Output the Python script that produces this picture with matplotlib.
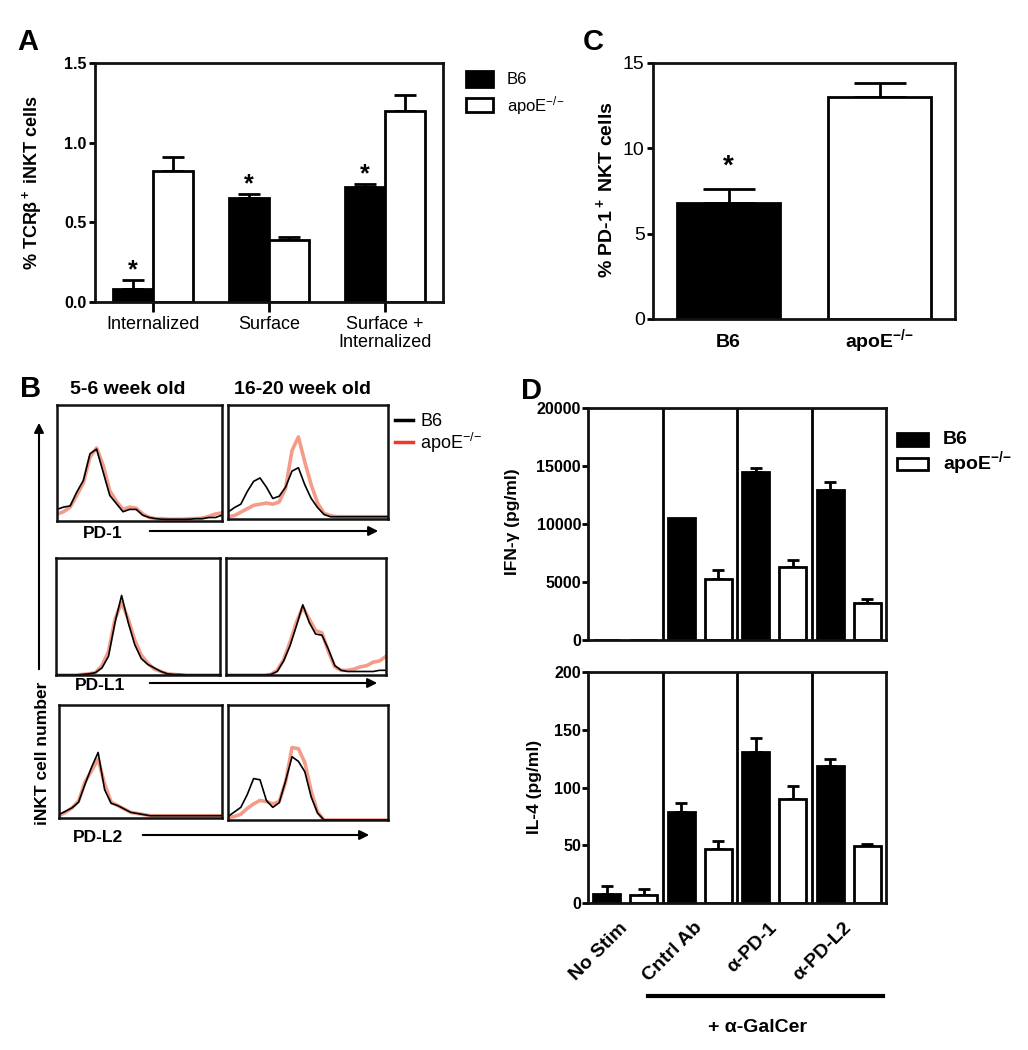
import numpy as np
import matplotlib
matplotlib.use('Agg')
import matplotlib.pyplot as plt
from matplotlib.patches import Rectangle, FancyArrowPatch

plt.rcParams['font.family'] = ['Liberation Sans', 'DejaVu Sans']
plt.rcParams['mathtext.fontset'] = 'custom'
plt.rcParams['mathtext.rm'] = 'Liberation Sans'
plt.rcParams['mathtext.bf'] = 'Liberation Sans:bold'
plt.rcParams['mathtext.default'] = 'regular'

KO = r'apoE$^{{-}/{-}}$'

# ---- data ----
# panel A
a_groups = ['Internalized', 'Surface', 'Surface +\nInternalized']
a_b6 = [0.08, 0.65, 0.72]
a_b6_err = [0.06, 0.03, 0.02]
a_apoe = [0.82, 0.39, 1.20]
a_apoe_err = [0.09, 0.02, 0.10]

# panel C
c_groups = ['B6', KO]
c_vals = [6.8, 13.0]
c_err = [0.8, 0.8]

# panel D
d_groups = ['No Stim', 'Cntrl Ab', 'α-PD-1', 'α-PD-L2']
ifn_b6 = [0, 10500, 14500, 12900]
ifn_b6_err = [0, 0, 300, 700]
ifn_apoe = [0, 5300, 6300, 3200]
ifn_apoe_err = [0, 700, 600, 300]
il4_b6 = [8, 79, 131, 119]
il4_b6_err = [7, 8, 12, 6]
il4_apoe = [7, 47, 90, 49]
il4_apoe_err = [5, 7, 11, 2]

# panel B histograms (fraction of channel range vs relative count)
hist_x = np.linspace(0, 1, 26)
pd1_young_b6 = [.10, .12, .13, .25, .35, .58, .62, .42, .22, .15, .08, .10, .10,
                .05, .03, .02, .015, .015, .015, .015, .015, .02, .02, .03, .03, .05]
pd1_young_apoe = [.06, .08, .12, .22, .33, .55, .63, .48, .26, .17, .10, .12, .11,
                  .06, .03, .02, .02, .015, .015, .015, .02, .02, .025, .04, .06, .07]
pd1_old_b6 = [.06, .10, .13, .24, .33, .36, .28, .18, .20, .28, .42, .45, .30,
              .18, .10, .04, .02, .02, .02, .02, .02, .02, .02, .02, .02, .02]
pd1_old_apoe = [.02, .03, .06, .09, .12, .13, .14, .13, .15, .27, .60, .72, .50,
                .30, .14, .05, .03, .02, .02, .02, .02, .02, .02, .02, .02, .02]
pdl1_young_b6 = [0, 0, 0, 0, .005, .01, .02, .06, .16, .45, .68, .45, .26,
                 .14, .09, .06, .03, .01, .005, .005, 0, 0, 0, 0, 0, 0]
pdl1_young_apoe = [0, 0, 0, 0, .005, .01, .02, .08, .20, .48, .62, .48, .30,
                   .17, .10, .05, .03, .01, .005, 0, 0, 0, 0, 0, 0, 0]
pdl1_old_b6 = [0, 0, 0, 0, 0, 0, 0, .005, .03, .12, .25, .42, .60,
               .45, .35, .34, .22, .08, .04, .03, .03, .03, .03, .03, .04, .04]
pdl1_old_apoe = [0, 0, 0, 0, 0, 0, 0, .005, .04, .13, .28, .45, .58,
                 .48, .38, .36, .20, .07, .04, .04, .05, .07, .08, .11, .12, .16]
pdl2_young_b6 = [.03, .06, .09, .14, .30, .45, .58, .25, .13, .11, .08, .05, .04,
                 .03, .02, .02, .02, .02, .02, .02, .02, .02, .02, .02, .02, .02]
pdl2_young_apoe = [.02, .05, .09, .15, .32, .42, .52, .30, .14, .11, .08, .05, .04,
                   .03, .02, .02, .02, .02, .02, .02, .02, .02, .02, .02, .02, .02]
pdl2_old_b6 = [.03, .07, .11, .22, .36, .35, .17, .11, .15, .34, .55, .51, .42,
               .20, .06, 0, 0, 0, 0, 0, 0, 0, 0, 0, 0, 0]
pdl2_old_apoe = [.02, .03, .05, .10, .14, .17, .16, .14, .16, .33, .63, .62, .50,
                 .25, .07, 0, 0, 0, 0, 0, 0, 0, 0, 0, 0, 0]

W, H = 1028, 1050
fig = plt.figure(figsize=(W / 100, H / 100), dpi=100)


def rect(x0, y0, x1, y1):
    return [x0 / W, 1 - y1 / H, (x1 - x0) / W, (y1 - y0) / H]


# overlay in pixel coords for labels, legends, arrows
ov = fig.add_axes([0, 0, 1, 1])
ov.set_xlim(0, W)
ov.set_ylim(H, 0)
ov.axis('off')
ov.patch.set_alpha(0)


def style_box(ax, lw=2):
    for s in ax.spines.values():
        s.set_linewidth(lw)
        s.set_color('#111111')


def up_err(ax, x, y, e, cap, lw=2):
    x = np.asarray(x, float)
    y = np.asarray(y, float)
    e = np.asarray(e, float)
    m = e > 0
    ax.errorbar(x[m], y[m], yerr=[np.zeros(m.sum()), e[m]], fmt='none',
                ecolor='black', elinewidth=lw, capsize=cap, capthick=lw, zorder=1)


# ---------------- Panel A ----------------
axA = fig.add_axes(rect(95, 63, 443, 302))
xa = np.arange(len(a_groups))
bw = 0.345
axA.bar(xa - bw / 2, a_b6, bw, color='black', edgecolor='black', lw=2, zorder=2)
axA.bar(xa + bw / 2, a_apoe, bw, color='white', edgecolor='black', lw=2, zorder=2)
up_err(axA, xa - bw / 2, a_b6, a_b6_err, 8)
up_err(axA, xa + bw / 2, a_apoe, a_apoe_err, 8)
for i in range(len(a_groups)):
    axA.text(xa[i] - bw / 2, a_b6[i] + a_b6_err[i] + 0.06, '*', ha='center', va='center',
             fontsize=18, fontweight='bold')
axA.set_xlim(-0.5, 2.5)
axA.set_ylim(0, 1.5)
axA.set_xticks(xa)
axA.set_xticklabels(a_groups, fontsize=13, linespacing=1.05)
axA.set_yticks([0, 0.5, 1.0, 1.5])
axA.set_yticklabels(['0.0', '0.5', '1.0', '1.5'], fontsize=11.5, fontweight='bold')
axA.tick_params(axis='x', length=7, width=2, pad=3)
axA.tick_params(axis='y', length=4, width=2, pad=2)
style_box(axA)
axA.set_ylabel(r'% TCRβ$^+$ iNKT cells', fontsize=13, fontweight='bold')
axA.yaxis.set_label_coords(44 / W, 1 - 182 / H, transform=fig.transFigure)

ov.text(17, 50, 'A', fontsize=21, fontweight='bold', va='baseline')
ov.add_patch(Rectangle((466, 71), 27, 16, facecolor='black', edgecolor='black', lw=2))
ov.add_patch(Rectangle((466, 98), 27, 14, facecolor='white', edgecolor='black', lw=2))
ov.text(507, 80, 'B6', fontsize=12, va='center')
ov.text(507, 106, KO, fontsize=12, va='center')

# ---------------- Panel C ----------------
axC = fig.add_axes(rect(653, 63, 955, 319))
xc = np.arange(len(c_groups))
cw = 0.68
axC.bar(xc, c_vals, cw, color=['black', 'white'], edgecolor='black', lw=2, zorder=2)
up_err(axC, xc, c_vals, c_err, 19)
axC.text(xc[0], c_vals[0] + c_err[0] + 1.3, '*', ha='center', va='center',
         fontsize=20, fontweight='bold')
axC.set_xlim(-0.5, 1.5)
axC.set_ylim(0, 15)
axC.set_xticks(xc)
axC.set_xticklabels(c_groups, fontsize=14, fontweight='bold', va='baseline')
axC.set_yticks([0, 5, 10, 15])
axC.tick_params(axis='y', labelsize=14, length=4, width=2, pad=2)
axC.tick_params(axis='x', length=0, pad=20)
style_box(axC)
axC.set_ylabel(r'% PD-1$^+$ NKT cells', fontsize=14, fontweight='bold')
axC.yaxis.set_label_coords(616 / W, 1 - 190 / H, transform=fig.transFigure)
ov.text(583, 50, 'C', fontsize=21, fontweight='bold', va='baseline')

# ---------------- Panel D ----------------
xd = np.arange(len(d_groups)) * 2
dw = 0.72
axD1 = fig.add_axes(rect(588, 408, 886, 640))
axD2 = fig.add_axes(rect(588, 672, 886, 903))
for ax, b6, b6e, apo, apoe, ylim, yt, lab in [
        (axD1, ifn_b6, ifn_b6_err, ifn_apoe, ifn_apoe_err, 20000,
         [0, 5000, 10000, 15000, 20000], 'IFN-γ (pg/ml)'),
        (axD2, il4_b6, il4_b6_err, il4_apoe, il4_apoe_err, 200,
         [0, 50, 100, 150, 200], 'IL-4 (pg/ml)')]:
    ax.bar(xd, b6, dw, color='black', edgecolor='black', lw=2, zorder=2)
    ax.bar(xd + 1, apo, dw, color='white', edgecolor='black', lw=2, zorder=2)
    up_err(ax, xd, b6, b6e, 4)
    up_err(ax, xd + 1, apo, apoe, 4)
    for sx in [1.5, 3.5, 5.5]:
        ax.axvline(sx, color='black', lw=2)
    ax.set_xlim(-0.5, 7.5)
    ax.set_ylim(0, ylim)
    ax.set_yticks(yt)
    ax.tick_params(axis='y', labelsize=11.5, length=4, width=2, pad=1)
    for t in ax.get_yticklabels():
        t.set_fontweight('bold')
    style_box(ax)
    ax.set_ylabel(lab, fontsize=12.5, fontweight='bold')
axD1.yaxis.set_label_coords(520 / W, 1 - 522 / H, transform=fig.transFigure)
axD2.yaxis.set_label_coords(542 / W, 1 - 787 / H, transform=fig.transFigure)
axD1.set_xticks([])
axD2.set_xticks(xd + 0.5)
axD2.set_xticklabels(d_groups, rotation=45, ha='right', va='center',
                     rotation_mode='anchor', fontsize=14, fontweight='bold')
axD2.tick_params(axis='x', length=0, pad=16)

ov.plot([648, 883], [996, 996], color='black', lw=3)
ov.text(758, 1027, '+ α-GalCer', ha='center', va='center', fontsize=14, fontweight='bold')
ov.text(521, 399, 'D', fontsize=21, fontweight='bold', va='baseline')
ov.add_patch(Rectangle((897, 433), 31, 13, facecolor='black', edgecolor='black', lw=2))
ov.add_patch(Rectangle((897, 458), 31, 12, facecolor='white', edgecolor='black', lw=2))
ov.text(943, 440, 'B6', fontsize=14, fontweight='bold', va='center')
ov.text(943, 463, KO, fontsize=14, fontweight='bold', va='center')

# ---------------- Panel B ----------------
hist_panels = [
    ((57, 405, 222, 521), pd1_young_b6, pd1_young_apoe),
    ((228, 405, 388, 519), pd1_old_b6, pd1_old_apoe),
    ((56, 558, 220, 675), pdl1_young_b6, pdl1_young_apoe),
    ((226, 558, 386, 675), pdl1_old_b6, pdl1_old_apoe),
    ((59, 705, 222, 818), pdl2_young_b6, pdl2_young_apoe),
    ((228, 705, 388, 820), pdl2_old_b6, pdl2_old_apoe),
]
for box, blk, red in hist_panels:
    ax = fig.add_axes(rect(*box))
    ax.plot(hist_x, red, color='#ee5a3c', lw=2.6, alpha=0.6)
    ax.plot(hist_x, blk, color='black', lw=1.2)
    ax.set_xlim(0, 1)
    ax.set_ylim(0, 1)
    ax.set_xticks([])
    ax.set_yticks([])
    style_box(ax, 1.8)

ov.text(20, 397, 'B', fontsize=21, fontweight='bold', va='baseline')
ov.text(128, 390, '5-6 week old', ha='center', va='center', fontsize=14, fontweight='bold')
ov.text(303, 390, '16-20 week old', ha='center', va='center', fontsize=14, fontweight='bold')
for lab, lx, ly, ax0, ax1 in [('PD-1', 83, 534, 147, 381),
                              ('PD-L1', 75, 686, 147, 380),
                              ('PD-L2', 73, 838, 140, 372)]:
    ov.text(lx, ly, lab, ha='left', va='center', fontsize=12.5, fontweight='bold')
    ov.add_patch(FancyArrowPatch((ax0, ly - 3), (ax1, ly - 3), arrowstyle='-|>',
                                 mutation_scale=14, lw=1.5, color='black'))
ov.add_patch(FancyArrowPatch((39, 672), (39, 420), arrowstyle='-|>',
                             mutation_scale=14, lw=1.5, color='black'))
ov.text(43, 753, 'iNKT cell number', rotation=90, ha='center', va='center',
        fontsize=12.5, fontweight='bold')
ov.plot([395, 413], [420, 420], color='black', lw=2.5)
ov.plot([395, 413], [442, 442], color='#ee3a2c', lw=2.5)
ov.text(420, 422, 'B6', fontsize=13, va='center')
ov.text(420, 443, KO, fontsize=13, va='center')

fig.savefig('out.png', dpi=100)
